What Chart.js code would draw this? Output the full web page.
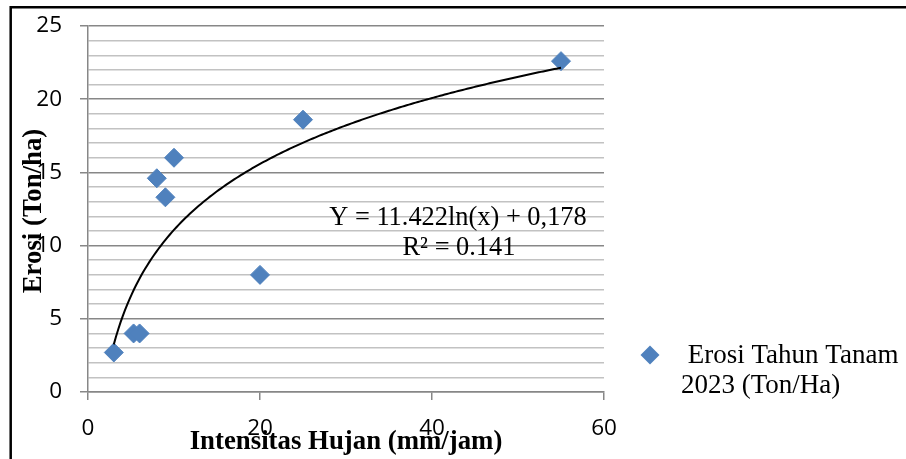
<!DOCTYPE html>
<html><head><meta charset="utf-8">
<script src="https://cdn.jsdelivr.net/npm/chart.js@4.4.1/dist/chart.umd.min.js"></script>
<style>html,body{margin:0;padding:0;background:#fff;}#wrap{width:906px;height:459px;}</style>
</head><body><div id="wrap"><canvas id="c" width="906" height="459"></canvas></div>
<script>
// ---- data ----
const intensitas = [3, 5.3, 6, 8, 9, 10, 20, 25, 55];          // x: Intensitas Hujan (mm/jam)
const erosi      = [2.7, 4, 4, 14.6, 13.3, 16, 8, 18.6, 22.6];  // y: Erosi (Ton/ha)
const xTicks = [0, 20, 40, 60];
const yTicks = [0, 5, 10, 15, 20, 25];
const seriesLabel = [' Erosi Tahun Tanam', '2023 (Ton/Ha)'];
const xTitle = 'Intensitas Hujan (mm/jam)';
const yTitle = 'Erosi (Ton/ha)';
const eqLines = ['Y = 11.422ln(x) + 0,178', 'R\u00B2 = 0.141'];

// logarithmic trendline fitted (least squares) to the scatter data
function logFit(xs, ys) {
  const lx = xs.map(Math.log);
  const n = xs.length;
  const mx = lx.reduce((s, v) => s + v, 0) / n;
  const my = ys.reduce((s, v) => s + v, 0) / n;
  let sxy = 0, sxx = 0;
  for (let i = 0; i < n; i++) { sxy += (lx[i] - mx) * (ys[i] - my); sxx += (lx[i] - mx) ** 2; }
  const a = sxy / sxx;
  return { a, b: my - a * mx };
}
const fit = logFit(intensitas, erosi);
const xMin = Math.min(...intensitas), xMax = Math.max(...intensitas);
const trend = [];
for (let i = 0; i <= 200; i++) {
  const x = xMin + (xMax - xMin) * i / 200;
  trend.push({ x, y: fit.a * Math.log(x) + fit.b });
}

const MARKER = '#4F81BD';
const MAJOR = '#878787';
const MINOR = '#c2c2c2';
const SERIF = '"Liberation Serif", "Times New Roman", serif';
const SANS = '"Open Sans", sans-serif';

const overlay = {
  id: 'overlay',
  afterDraw(chart) {
    const ctx = chart.ctx;
    ctx.save();
    // frame (top and left edges)
    ctx.strokeStyle = '#000';
    ctx.lineWidth = 2.5;
    ctx.beginPath();
    ctx.moveTo(906, 7.3); ctx.lineTo(10.7, 7.3); ctx.lineTo(10.7, 459);
    ctx.stroke();

    // axis titles
    ctx.fillStyle = '#000';
    ctx.font = 'bold 26.8px ' + SERIF;
    ctx.textAlign = 'center';
    ctx.textBaseline = 'middle';
    ctx.fillText(xTitle, 346, 442);
    ctx.save();
    ctx.translate(34, 211);
    ctx.rotate(-Math.PI / 2);
    ctx.fillText(yTitle, 0, 0);
    ctx.restore();

    // equation
    ctx.font = '26.4px ' + SERIF;
    ctx.textAlign = 'center';
    ctx.textBaseline = 'middle';
    ctx.fillText(eqLines[0], 458, 218);
    ctx.fillText(eqLines[1], 459, 248);

    // legend
    ctx.fillStyle = MARKER;
    ctx.beginPath();
    ctx.moveTo(650, 345.5); ctx.lineTo(659.5, 355); ctx.lineTo(650, 364.5); ctx.lineTo(640.5, 355);
    ctx.closePath(); ctx.fill();
    ctx.fillStyle = '#000';
    ctx.font = '27px ' + SERIF;
    ctx.textAlign = 'left';
    ctx.textBaseline = 'alphabetic';
    ctx.fillText(seriesLabel[0], 681, 363);
    ctx.fillText(seriesLabel[1], 681, 393);
    ctx.restore();
  }
};

new Chart(document.getElementById('c'), {
  type: 'scatter',
  data: {
    datasets: [
      {
        label: seriesLabel.join(' '),
        data: intensitas.map((x, i) => ({ x, y: erosi[i] })),
        pointStyle: 'rectRot',
        pointRadius: 9.5,
        pointHoverRadius: 9.5,
        backgroundColor: MARKER,
        borderColor: MARKER,
        borderWidth: 1,
        order: 1
      },
      {
        label: 'trend',
        data: trend,
        showLine: true,
        pointRadius: 0,
        borderColor: '#000',
        borderWidth: 2,
        fill: false,
        tension: 0,
        order: 0
      }
    ]
  },
  options: {
    responsive: false,
    animation: false,
    events: [],
    layout: { padding: { top: 26, right: 302, bottom: 0, left: 0 } },
    plugins: { legend: { display: false }, tooltip: { enabled: false }, title: { display: false } },
    scales: {
      x: {
        type: 'linear',
        min: xTicks[0], max: xTicks[xTicks.length - 1],
        afterBuildTicks(scale) { scale.ticks = xTicks.map(v => ({ value: v })); },
        afterFit(scale) { scale.height = 67; scale.paddingLeft = 0; scale.paddingRight = 0; },
        grid: { drawOnChartArea: false, tickLength: 8, tickColor: MAJOR, lineWidth: 1.5 },
        border: { color: MAJOR, width: 1.5 },
        ticks: { padding: 15, color: '#000', font: { family: SANS, size: 22.5 }, maxRotation: 0 }
      },
      y: {
        type: 'linear',
        min: yTicks[0], max: yTicks[yTicks.length - 1],
        afterFit(scale) { scale.width = 88; scale.paddingTop = 0; scale.paddingBottom = 0; },
        grid: {
          color: c => (yTicks.includes(c.tick.value) ? MAJOR : MINOR),
          tickColor: c => (yTicks.includes(c.tick.value) ? MAJOR : 'rgba(0,0,0,0)'),
          lineWidth: 1.5,
          tickLength: 8
        },
        border: { color: MAJOR, width: 1.5 },
        ticks: {
          stepSize: 1, autoSkip: false, padding: 18, color: '#000',
          font: { family: SANS, size: 22.5 },
          callback: v => (yTicks.includes(v) ? String(v) : '')
        }
      }
    }
  },
  plugins: [overlay]
});
</script></body></html>
